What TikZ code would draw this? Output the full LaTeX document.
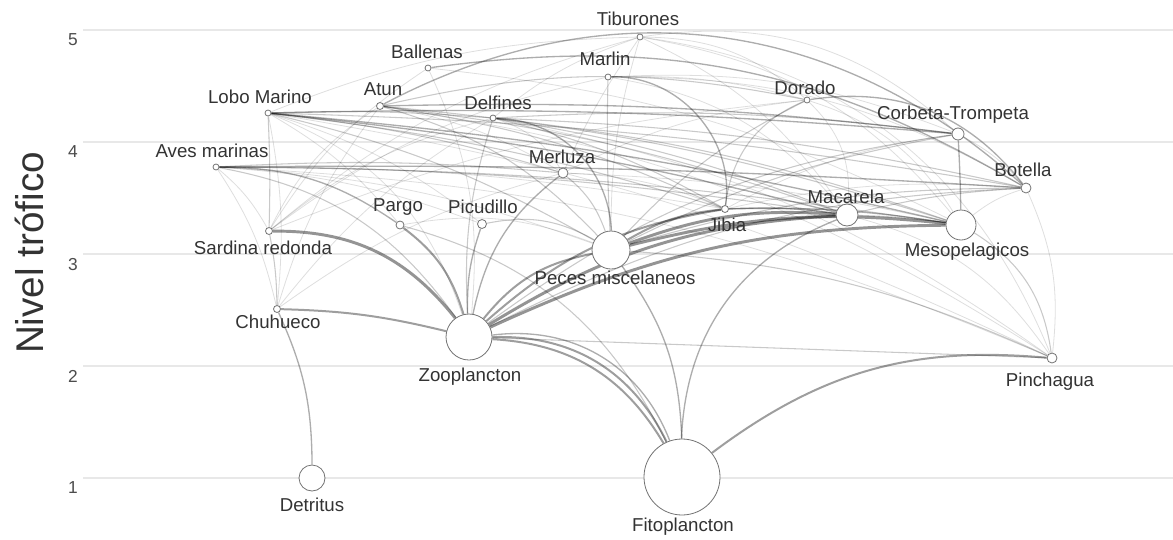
\documentclass[tikz,border=0pt]{standalone}
\usepackage{fontspec}
\setmainfont{Liberation Sans}
\usetikzlibrary{backgrounds}
\newcommand\fwedge[4]{\draw[#1] (#2) to[bend left=#4] (#3);}
\begin{document}
\begin{tikzpicture}[x=0.75pt,y=-0.75pt,
  nd/.style={circle, draw=black!55, fill=white, line width=0.6pt, inner sep=0pt},
  lbl/.style={font=\fontsize{14}{16}\selectfont, text=black!80, inner sep=0pt, anchor=base},
  tick/.style={font=\fontsize{13}{15}\selectfont, text=black!70, inner sep=0pt, anchor=base},
  grid/.style={draw=black!9, line width=0.8pt},
  e1/.style={draw=black, draw opacity=0.13, line width=0.6pt},
  e2/.style={draw=black, draw opacity=0.21, line width=0.8pt},
  e3/.style={draw=black, draw opacity=0.32, line width=1.0pt},
  e4/.style={draw=black, draw opacity=0.38, line width=1.5pt},
  e5/.style={draw=black, draw opacity=0.42, line width=2.2pt}]
\useasboundingbox (0,0) rectangle (1173,539);
% nodes
\node[nd, minimum size=4.5pt]  (tib) at (640,37) {};
\node[nd, minimum size=4.5pt]  (bal) at (428,68) {};
\node[nd, minimum size=4.5pt]  (mar) at (608,77) {};
\node[nd, minimum size=5.25pt] (atu) at (380,106) {};
\node[nd, minimum size=4.5pt]  (lob) at (268,113) {};
\node[nd, minimum size=4.5pt]  (del) at (493,118) {};
\node[nd, minimum size=4.5pt]  (dor) at (807,100) {};
\node[nd, minimum size=9pt]    (cor) at (958,134) {};
\node[nd, minimum size=4.5pt]  (ave) at (216,167) {};
\node[nd, minimum size=7.5pt]  (mer) at (563,173) {};
\node[nd, minimum size=7.5pt]  (bot) at (1026,188) {};
\node[nd, minimum size=6pt]    (par) at (400,225) {};
\node[nd, minimum size=6.75pt] (pic) at (482,224) {};
\node[nd, minimum size=5.25pt] (jib) at (725,209) {};
\node[nd, minimum size=16.5pt] (mac) at (847,215) {};
\node[nd, minimum size=22.5pt] (mes) at (961,225) {};
\node[nd, minimum size=5.25pt] (sar) at (269,231) {};
\node[nd, minimum size=28.5pt] (pec) at (611,250) {};
\node[nd, minimum size=5.25pt] (chu) at (277,309) {};
\node[nd, minimum size=34.5pt] (zoo) at (469,337) {};
\node[nd, minimum size=7.5pt]  (pin) at (1052,358) {};
\node[nd, minimum size=19.5pt] (det) at (312,478) {};
\node[nd, minimum size=57pt]   (fit) at (682,477) {};
% labels
\node[lbl] (ltib) at (638,25) {Tiburones};
\node[lbl] (lbal) at (427,58) {Ballenas};
\node[lbl] (lmar) at (605,65) {Marlin};
\node[lbl] (latu) at (383,95) {Atun};
\node[lbl] (llob) at (260,103) {Lobo Marino};
\node[lbl] (ldel) at (498,109) {Delfines};
\node[lbl] (ldor) at (805,94) {Dorado};
\node[lbl] (lcor) at (953,119) {Corbeta-Trompeta};
\node[lbl] (lave) at (212,157) {Aves marinas};
\node[lbl] (lmer) at (562,163) {Merluza};
\node[lbl] (lbot) at (1023,176) {Botella};
\node[lbl] (lpar) at (398,211) {Pargo};
\node[lbl] (lpic) at (483,213) {Picudillo};
\node[lbl] (ljib) at (727,231) {Jibia};
\node[lbl] (lmac) at (846,203) {Macarela};
\node[lbl] (lmes) at (967,256) {Mesopelagicos};
\node[lbl] (lsar) at (263,254) {Sardina redonda};
\node[lbl] (lpec) at (615,284) {Peces miscelaneos};
\node[lbl] (lchu) at (278,328) {Chuhueco};
\node[lbl] (lzoo) at (470,381) {Zooplancton};
\node[lbl] (lpin) at (1050,386) {Pinchagua};
\node[lbl] (ldet) at (312,511) {Detritus};
\node[lbl] (lfit) at (683,531) {Fitoplancton};
% axis
\node[tick] (t5) at (73,45) {5};
\node[tick] (t4) at (73,157) {4};
\node[tick] (t3) at (73,270) {3};
\node[tick] (t2) at (73,382) {2};
\node[tick] (t1) at (73,493) {1};
\node[rotate=90, font=\fontsize{29}{32}\selectfont, text=black!80, inner sep=0pt] (ytitle) at (29,253) {Nivel trófico};
\begin{pgfonlayer}{background}
\fill[white] (0,0) rectangle (1173,539);
\foreach \yy in {30,142,254,366,478} {\draw[grid] (83,\yy) -- (1173,\yy);}
% zooplancton
\fwedge{e5}{sar}{zoo}{26}
\fwedge{e4}{chu}{zoo}{6}
\fwedge{e4}{par}{zoo}{18}
\fwedge{e3}{ave}{par}{17}
\fwedge{e2}{ave}{zoo}{22}
\fwedge{e3}{zoo}{pic}{10}
\fwedge{e2}{zoo}{del}{10}
\fwedge{e3}{zoo}{mer}{20}
\fwedge{e4}{zoo}{pec}{20}
\fwedge{e4}{zoo}{jib}{16}
\fwedge{e5}{zoo}{mac}{14}
\fwedge{e5}{zoo}{mes}{12}
\fwedge{e2}{zoo}{cor}{14}
\fwedge{e2}{zoo}{bot}{12}
\fwedge{e4}{zoo}{fit}{28}
\fwedge{e4}{zoo}{fit}{33}
\fwedge{e3}{zoo}{fit}{38}
\fwedge{e2}{zoo}{pin}{0}
\fwedge{e1}{lob}{zoo}{25}
\fwedge{e1}{bal}{zoo}{15}
% fitoplancton
\fwedge{e3}{pec}{fit}{17}
\fwedge{e3}{fit}{mac}{33}
\fwedge{e4}{fit}{pin}{21}
\fwedge{e2}{par}{fit}{24}
% chuhueco / sardina
\fwedge{e3}{chu}{det}{12}
\fwedge{e2}{sar}{chu}{5}
\fwedge{e2}{lob}{sar}{2}
\fwedge{e1}{lob}{chu}{8}
\fwedge{e1}{ave}{chu}{10}
\fwedge{e1}{ave}{sar}{10}
\fwedge{e1}{chu}{atu}{10}
\fwedge{e1}{chu}{mer}{10}
\fwedge{e1}{chu}{del}{10}
% lobo marino
\fwedge{e2}{lob}{del}{3}
\fwedge{e2}{lob}{mer}{5}
\fwedge{e2}{lob}{pec}{8}
\fwedge{e2}{lob}{jib}{5}
\fwedge{e3}{lob}{mac}{4}
\fwedge{e3}{lob}{mes}{4}
\fwedge{e3}{lob}{cor}{3}
\fwedge{e2}{lob}{bot}{4}
\fwedge{e1}{lob}{pin}{8}
\fwedge{e1}{lob}{pic}{10}
\fwedge{e1}{lob}{par}{10}
\fwedge{e1}{lob}{tib}{10}
% aves marinas
\fwedge{e2}{ave}{mer}{4}
\fwedge{e1}{ave}{jib}{5}
\fwedge{e2}{ave}{mac}{4}
\fwedge{e3}{ave}{bot}{2}
\fwedge{e2}{ave}{mes}{4}
\fwedge{e1}{ave}{pec}{8}
\fwedge{e1}{ave}{pin}{10}
\fwedge{e1}{ave}{pic}{8}
% atun
\fwedge{e3}{atu}{bot}{35}
\fwedge{e2}{atu}{dor}{12}
\fwedge{e1}{atu}{mer}{10}
\fwedge{e2}{atu}{pec}{15}
\fwedge{e2}{atu}{jib}{8}
\fwedge{e2}{atu}{mac}{6}
\fwedge{e2}{atu}{mes}{6}
\fwedge{e3}{atu}{cor}{4}
\fwedge{e1}{atu}{pin}{12}
\fwedge{e1}{sar}{atu}{15}
% ballenas
\fwedge{e3}{bal}{bot}{19}
\fwedge{e1}{sar}{bal}{12}
\fwedge{e1}{bal}{mes}{10}
% tiburones
\fwedge{e1}{pec}{tib}{8}
\fwedge{e1}{tib}{dor}{20}
\fwedge{e1}{tib}{cor}{25}
\fwedge{e1}{tib}{pin}{30}
\fwedge{e1}{tib}{mes}{20}
\fwedge{e1}{tib}{mac}{15}
\fwedge{e1}{del}{tib}{10}
\fwedge{e1}{sar}{tib}{12}
\fwedge{e1}{mer}{tib}{5}
% marlin
\fwedge{e3}{mar}{jib}{50}
\fwedge{e2}{pec}{mar}{2}
\fwedge{e1}{mar}{dor}{8}
\fwedge{e1}{mar}{mac}{20}
\fwedge{e1}{mar}{cor}{12}
\fwedge{e1}{mar}{bot}{15}
\fwedge{e1}{sar}{mar}{12}
% delfines
\fwedge{e3}{del}{pec}{43}
\fwedge{e2}{del}{jib}{8}
\fwedge{e2}{del}{mac}{6}
\fwedge{e2}{del}{mes}{6}
\fwedge{e2}{del}{cor}{5}
\fwedge{e2}{del}{bot}{5}
\fwedge{e1}{del}{mer}{20}
\fwedge{e1}{sar}{del}{12}
\fwedge{e1}{del}{pin}{12}
% dorado
\fwedge{e2}{jib}{dor}{30}
\fwedge{e3}{dor}{bot}{30}
\fwedge{e1}{dor}{mac}{25}
\fwedge{e1}{dor}{mes}{20}
\fwedge{e2}{pec}{dor}{10}
\fwedge{e1}{sar}{dor}{8}
\fwedge{e1}{mer}{dor}{10}
% corbeta
\fwedge{e3}{cor}{mes}{1}
\fwedge{e1}{cor}{bot}{10}
\fwedge{e2}{pec}{cor}{8}
\fwedge{e1}{jib}{cor}{10}
% merluza
\fwedge{e2}{mer}{pec}{15}
\fwedge{e1}{mer}{jib}{10}
\fwedge{e1}{mer}{mes}{5}
% botella
\fwedge{e2}{pec}{bot}{8}
\fwedge{e2}{mac}{bot}{5}
\fwedge{e1}{bot}{pin}{15}
\fwedge{e1}{mes}{bot}{10}
\fwedge{e1}{jib}{bot}{8}
% jibia, macarela, mesopelagicos
\fwedge{e4}{pec}{jib}{12}
\fwedge{e3}{jib}{mac}{5}
\fwedge{e3}{jib}{mes}{5}
\fwedge{e5}{pec}{mac}{12}
\fwedge{e5}{pec}{mes}{10}
\fwedge{e2}{mac}{mes}{3}
% pinchagua
\fwedge{e2}{mes}{pin}{25}
\fwedge{e1}{mac}{pin}{20}
\fwedge{e2}{pec}{pin}{10}
% picudillo, pargo
\fwedge{e2}{pic}{pec}{20}
\fwedge{e1}{par}{pec}{15}
\end{pgfonlayer}
\end{tikzpicture}
\end{document}
